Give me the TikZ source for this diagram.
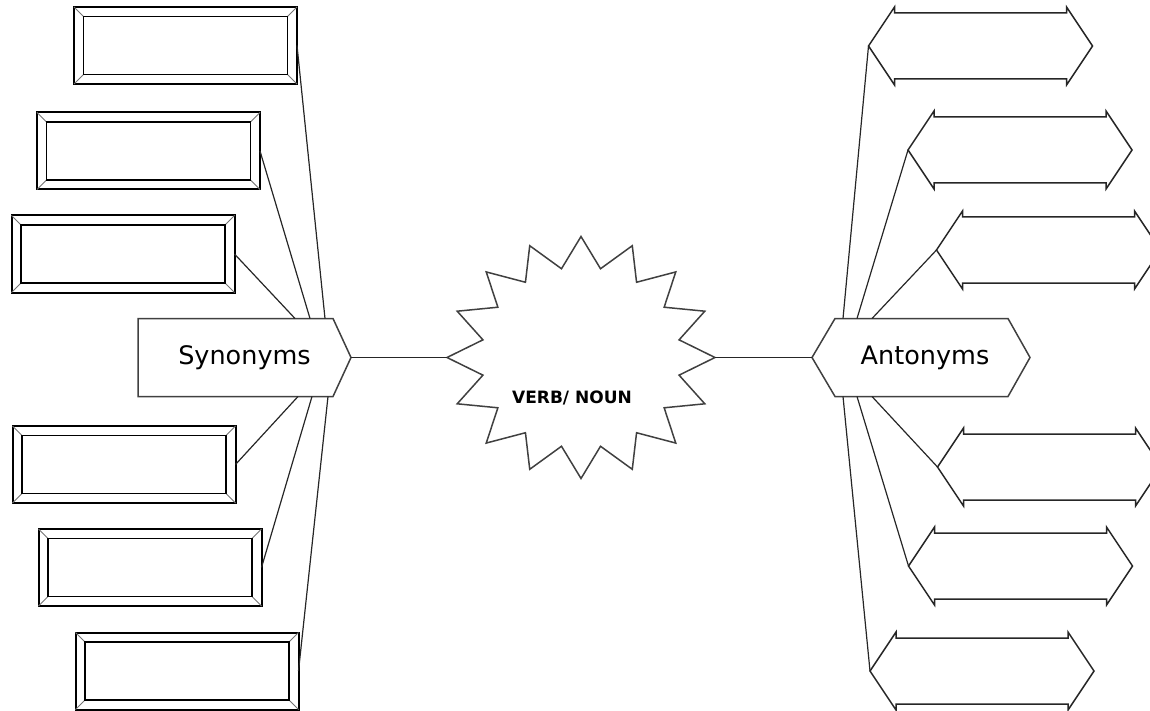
\documentclass[tikz,border=0pt]{standalone}
\usepackage{fontspec}
\setmainfont{DejaVu Sans}
\begin{document}
\begin{tikzpicture}[x=1pt,y=-1pt,
  bevelbox/.style={rectangle, draw=black, line width=2pt, minimum width=223pt, minimum height=77pt, inner sep=0pt, outer sep=0pt},
  innerline/.style={draw=black, line width=1.8pt},
  bevel/.style={draw=black!55, line width=0.9pt},
  arrowbox/.style={rectangle, minimum width=224pt, minimum height=78pt, inner sep=0pt, outer sep=0pt},
  arrowline/.style={draw=black!85, line width=1.5pt, line join=miter},
  hub/.style={rectangle, inner sep=0pt, outer sep=0pt, minimum height=78pt, font=\fontsize{25.5}{30}\selectfont},
  hubline/.style={draw=black!75, line width=1.5pt},
  conn/.style={draw=black!85, line width=1.2pt}
]
\useasboundingbox (0,0) rectangle (1150,711);
\clip (0,0) rectangle (1150,711);

% left bevelled boxes
\node[bevelbox] (L1) at (185.5,45.5) {};
\node[bevelbox] (L2) at (148.5,151) {};
\node[bevelbox] (L3) at (123,254) {};
\node[bevelbox] (L4) at (124,464.5) {};
\node[bevelbox] (L5) at (150,567.5) {};
\node[bevelbox] (L6) at (187,671) {};
\foreach \n in {L1,L2,L3,L4,L5,L6}{
  \draw[bevel] (\n.north west) -- ++(9.5pt,-9.5pt);
  \draw[bevel] (\n.north east) -- ++(-9.5pt,-9.5pt);
  \draw[bevel] (\n.south west) -- ++(9.5pt,9.5pt);
  \draw[bevel] (\n.south east) -- ++(-9.5pt,9.5pt);
  \draw[innerline] ([shift={(9.5pt,-9.5pt)}]\n.north west) rectangle ([shift={(-9.5pt,9.5pt)}]\n.south east);
}

% right double arrows
\node[arrowbox] (R1) at (980.5,46) {};
\node[arrowbox] (R2) at (1020,150) {};
\node[arrowbox] (R3) at (1048.5,250) {};
\node[arrowbox] (R4) at (1049.5,467) {};
\node[arrowbox] (R5) at (1020.5,566) {};
\node[arrowbox] (R6) at (982,671) {};
\foreach \n in {R1,R2,R3,R4,R5,R6}{
  \draw[arrowline] (\n.west) -- ([xshift=26pt]\n.north west) -- ([xshift=26pt,yshift=-6pt]\n.north west)
    -- ([xshift=-26pt,yshift=-6pt]\n.north east) -- ([xshift=-26pt]\n.north east) -- (\n.east)
    -- ([xshift=-26pt]\n.south east) -- ([xshift=-26pt,yshift=6pt]\n.south east)
    -- ([xshift=26pt,yshift=6pt]\n.south west) -- ([xshift=26pt]\n.south west) -- cycle;
}

% Synonyms
\node[hub, minimum width=213pt] (syn) at (244.5,357.5) {Synonyms};
\draw[hubline] (syn.north west) -- ([xshift=-18pt]syn.north east) -- (syn.east)
  -- ([xshift=-18pt]syn.south east) -- (syn.south west) -- cycle;

% Antonyms
\node[hub, minimum width=218pt] (ant) at (921,357.5) {\hspace*{8pt}Antonyms};
\draw[hubline] (ant.west) -- ([xshift=23pt]ant.north west) -- ([xshift=-22pt]ant.north east) -- (ant.east)
  -- ([xshift=-22pt]ant.south east) -- ([xshift=23pt]ant.south west) -- cycle;

% star
\node[inner sep=0pt, minimum size=0pt] (star) at (581,357.5) {};
\draw[hubline, line join=miter, shift={(star.center)}] plot[samples at={0,...,31}, variable=\k]
  ({cos(\k*11.25)*ifthenelse(mod(\k,2)==0,134,100)}, {sin(\k*11.25)*ifthenelse(mod(\k,2)==0,121,90.5)}) -- cycle;
\node[font=\bfseries\fontsize{17}{20}\selectfont, inner sep=0pt] (verb) at (572,398) {VERB/ NOUN};
\coordinate (starW) at ([xshift=-134pt]star.center);
\coordinate (starE) at ([xshift=134pt]star.center);

% attach points
\coordinate (sT1) at ([xshift=157pt]syn.north west);
\coordinate (sT2) at ([xshift=172pt]syn.north west);
\coordinate (sT3) at ([xshift=187pt]syn.north west);
\coordinate (sB1) at ([xshift=160pt]syn.south west);
\coordinate (sB2) at ([xshift=174pt]syn.south west);
\coordinate (sB3) at ([xshift=190pt]syn.south west);
\coordinate (aT1) at ([xshift=31pt]ant.north west);
\coordinate (aT2) at ([xshift=45pt]ant.north west);
\coordinate (aT3) at ([xshift=60pt]ant.north west);
\coordinate (aB1) at ([xshift=31pt]ant.south west);
\coordinate (aB2) at ([xshift=45pt]ant.south west);
\coordinate (aB3) at ([xshift=60pt]ant.south west);

% connectors
\draw[conn] (syn.east) -- (starW);
\draw[conn] (starE) -- (ant.west);
\draw[conn] (L1.east) -- (sT3);
\draw[conn] (L2.east) -- (sT2);
\draw[conn] (L3.east) -- (sT1);
\draw[conn] (L4.east) -- (sB1);
\draw[conn] (L5.east) -- (sB2);
\draw[conn] (L6.east) -- (sB3);
\draw[conn] (R1.west) -- (aT1);
\draw[conn] (R2.west) -- (aT2);
\draw[conn] (R3.west) -- (aT3);
\draw[conn] (R4.west) -- (aB3);
\draw[conn] (R5.west) -- (aB2);
\draw[conn] (R6.west) -- (aB1);
\end{tikzpicture}
\end{document}
